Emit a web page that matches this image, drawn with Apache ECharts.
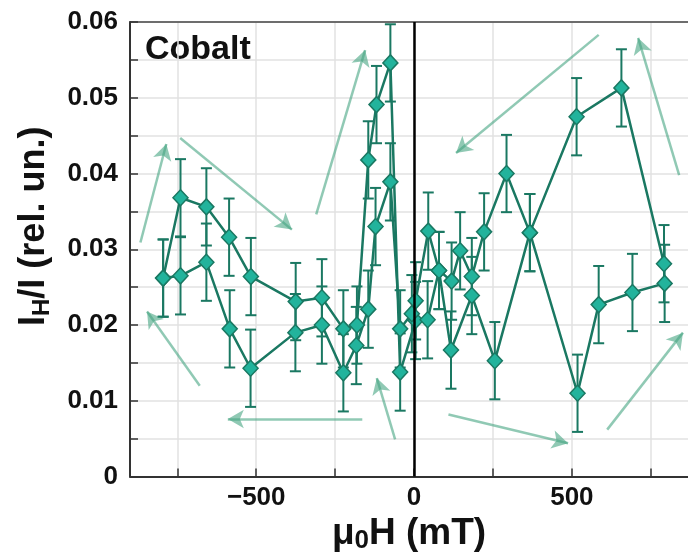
<!DOCTYPE html>
<html><head><meta charset="utf-8">
<script src="https://cdn.jsdelivr.net/npm/echarts@6/dist/echarts.min.js"></script>
<style>html,body{margin:0;padding:0;background:#fff}#c{width:688px;height:559px}</style>
</head><body><div id="c"></div>
<script>
// Field sweep up (mT) and Hall ratio I_H/I
const upField = [-795, -740, -658, -586, -517, -375, -292, -224, -181, -145, -119, -75, -44, 5, 43, 79, 117, 183, 256, 367, 518, 585, 692, 794];
const upRatio = [0.0262, 0.0368, 0.0356, 0.0316, 0.0264, 0.0231, 0.0236, 0.0195, 0.0200, 0.0418, 0.0491, 0.0546, 0.0138, 0.0206, 0.0207, 0.0272, 0.0167, 0.0239, 0.0153, 0.0322, 0.0110, 0.0227, 0.0243, 0.0255];
const upErr   = [0.0051, 0.0051, 0.0051, 0.0051, 0.0051, 0.0051, 0.0051, 0.0051, 0.0051, 0.0051, 0.0051, 0.0051, 0.0051, 0.0051, 0.0051, 0.0051, 0.0051, 0.0051, 0.0051, 0.0051, 0.0051, 0.0051, 0.0051, 0.0051];
// Field sweep down
const downField = [792, 657, 515, 367, 293, 222, 183, 146, 119, 79, 45, 5, -7, -44, -75, -122, -145, -183, -224, -292, -376, -518, -584, -658, -740, -795];
const downRatio = [0.0281, 0.0513, 0.0475, 0.0322, 0.0400, 0.0323, 0.0264, 0.0298, 0.0258, 0.0272, 0.0324, 0.0232, 0.0215, 0.0195, 0.0389, 0.0330, 0.0221, 0.0173, 0.0137, 0.0200, 0.0190, 0.0143, 0.0195, 0.0283, 0.0265, 0.0262];
const downErr   = [0.0051, 0.0051, 0.0051, 0.0051, 0.0051, 0.0051, 0.0051, 0.0051, 0.0051, 0.0051, 0.0051, 0.0051, 0.0051, 0.0051, 0.0051, 0.0051, 0.0051, 0.0051, 0.0051, 0.0051, 0.0051, 0.0051, 0.0051, 0.0051, 0.0051, 0.0051];

const xTickValues = [-750, -500, -250, 0, 250, 500, 750];
const xLabelValues = [-500, 0, 500];
const yTickLabels = ['0', '0.01', '0.02', '0.03', '0.04', '0.05', '0.06'];

// sweep-direction annotation arrows: [from, to] in data units
const arrowFrom = [[-867, 0.0309], [-741, 0.0447], [-310, 0.0346], [-679, 0.0120], [-164, 0.0076], [-60, 0.0049], [109, 0.0082], [612, 0.0062], [840, 0.0398], [585, 0.0583]];
const arrowTo   = [[-785, 0.0439], [-387, 0.0326], [-155, 0.0563], [-846, 0.0218], [-590, 0.0076], [-118, 0.0130], [488, 0.0044], [852, 0.0190], [710, 0.0579], [133, 0.0427]];

const FONT = "'Liberation Sans', Arial, Helvetica, sans-serif";
const LINE = '#1a7862';
const FILL = '#22b39c';
const X_MIN = -900, X_MAX = 868;

function pts(xs, ys) { return xs.map((x, i) => [x, ys[i]]); }
function errPts(xs, ys, es) { return xs.map((x, i) => [x, ys[i], es[i]]); }

function renderErr(params, api) {
  const x = api.value(0), y = api.value(1), e = api.value(2);
  const p1 = api.coord([x, y + e]);
  const p2 = api.coord([x, y - e]);
  const w = 5.5;
  const style = { stroke: LINE, lineWidth: 2 };
  return { type: 'group', children: [
    { type: 'line', shape: { x1: p1[0], y1: p1[1], x2: p2[0], y2: p2[1] }, style: style },
    { type: 'line', shape: { x1: p1[0] - w, y1: p1[1], x2: p1[0] + w, y2: p1[1] }, style: style },
    { type: 'line', shape: { x1: p2[0] - w, y1: p2[1], x2: p2[0] + w, y2: p2[1] }, style: style }
  ]};
}

const chart = echarts.init(document.getElementById('c'), null, { renderer: 'canvas' });

const lineSeries = (name, xs, ys) => ({
  name: name, type: 'line', data: pts(xs, ys), z: 3,
  symbol: 'diamond', symbolSize: [15, 16], showSymbol: true,
  lineStyle: { color: LINE, width: 2.5 },
  itemStyle: { color: FILL, borderColor: LINE, borderWidth: 1.5 },
  emphasis: { disabled: true }, animation: false
});

chart.setOption({
  animation: false,
  grid: { left: 130, right: 0, top: 22, bottom: 82 },
  xAxis: [{
    type: 'value', min: X_MIN, max: X_MAX,
    axisLine: { show: true, onZero: false, lineStyle: { color: '#333', width: 2 } },
    axisTick: { show: true, inside: true, length: 8, customValues: xTickValues, lineStyle: { color: '#333', width: 1.5 } },
    axisLabel: { customValues: xLabelValues, formatter: v => v < 0 ? '\u2212' + Math.abs(v) : String(v),
      fontSize: 26, fontWeight: 'bold', color: '#111', fontFamily: FONT, margin: 8 },
    splitLine: { show: true, lineStyle: { color: '#e2e2e2', width: 1.5 } },
    name: '{m|\u03bc}{s|0}{m|H (mT)}', nameLocation: 'middle', nameGap: 32,
    nameTextStyle: { rich: {
      m: { fontSize: 37, fontWeight: 'bold', fontFamily: FONT, color: '#111', lineHeight: 40 },
      s: { fontSize: 26, fontWeight: 'bold', fontFamily: FONT, color: '#111', lineHeight: 4, verticalAlign: 'bottom' }
    } }
  }, {
    type: 'value', position: 'top', min: X_MIN, max: X_MAX,
    axisLine: { show: true, onZero: false, lineStyle: { color: '#444', width: 1.5 } },
    axisTick: { show: false }, axisLabel: { show: false }, splitLine: { show: false }
  }],
  yAxis: {
    type: 'value', min: 0, max: 0.06, interval: 0.005,
    axisLine: { show: true, onZero: false, lineStyle: { color: '#333', width: 2 } },
    axisTick: { show: true, inside: true, length: 8, lineStyle: { color: '#333', width: 1.5 } },
    axisLabel: { formatter: v => { const k = Math.round(v * 200); return k % 2 === 0 ? yTickLabels[k / 2] : ''; },
      fontSize: 26, fontWeight: 'bold', color: '#111', fontFamily: FONT, margin: 12 },
    splitLine: { show: true, lineStyle: { color: '#e2e2e2', width: 1.5 } },
    name: '{m|I}{s|H}{m|/I (rel. un.)}', nameLocation: 'middle', nameGap: 76, nameRotate: 90,
    nameTextStyle: { padding: [0, 0, 0, 46], rich: {
      m: { fontSize: 36, fontWeight: 'bold', fontFamily: FONT, color: '#111', lineHeight: 40 },
      s: { fontSize: 24, fontWeight: 'bold', fontFamily: FONT, color: '#111', lineHeight: 4, verticalAlign: 'bottom' }
    } }
  },
  graphic: [{ type: 'text', left: 145, top: 33, style: { text: 'Cobalt', font: "bold 34px " + FONT, fill: '#111' } }],
  series: [
    {
      name: 'arrows', type: 'line', data: [], z: 1,
      markLine: {
        silent: true, symbol: ['none', 'arrow'], symbolSize: [14, 16], label: { show: false },
        lineStyle: { color: 'rgba(70,165,130,0.6)', width: 2.5, type: 'solid' },
        data: arrowFrom.map((f, i) => [{ coord: f }, { coord: arrowTo[i] }])
      }
    },
    {
      name: 'zero', type: 'line', data: [], z: 2,
      markLine: { silent: true, symbol: 'none', label: { show: false },
        lineStyle: { color: '#000', width: 2.5, type: 'solid' }, data: [{ xAxis: 0 }] }
    },
    { name: 'errUp', type: 'custom', renderItem: renderErr, data: errPts(upField, upRatio, upErr), encode: { x: 0, y: 1 }, z: 2 },
    { name: 'errDown', type: 'custom', renderItem: renderErr, data: errPts(downField, downRatio, downErr), encode: { x: 0, y: 1 }, z: 2 },
    lineSeries('sweep up', upField, upRatio),
    lineSeries('sweep down', downField, downRatio)
  ]
});
</script>
</body></html>
